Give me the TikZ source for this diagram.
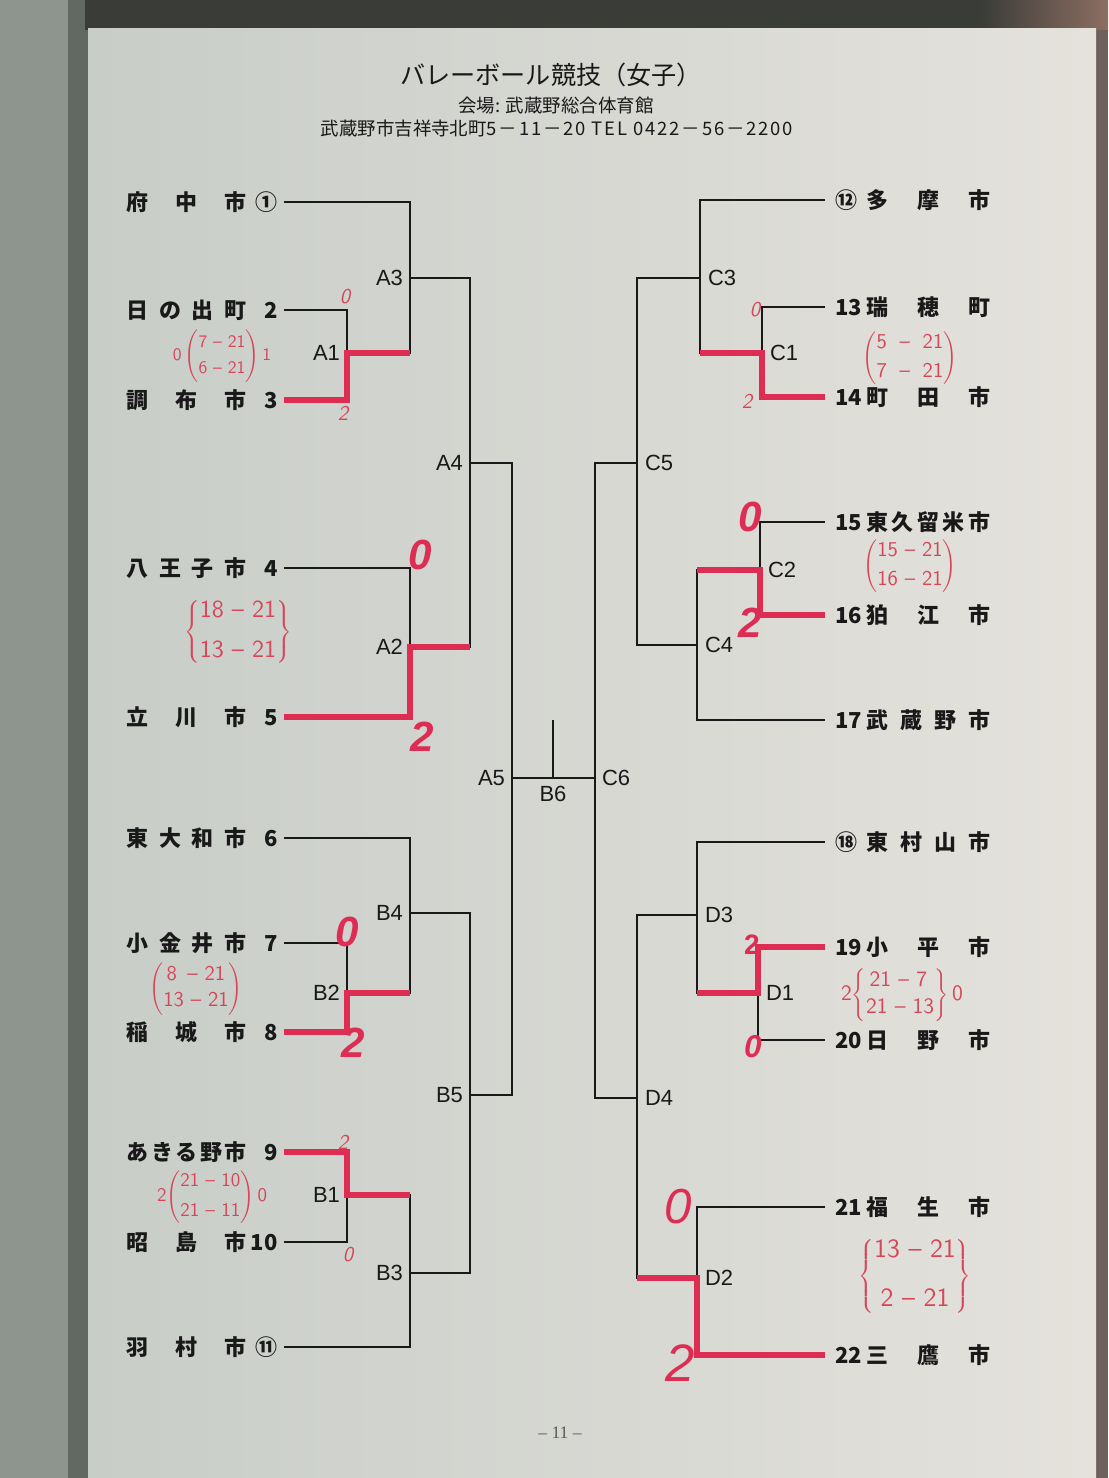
\documentclass[tikz,border=0pt]{standalone}
\usepackage{fontspec}
\usetikzlibrary{positioning}
\setmainfont{Liberation Sans}
\newfontfamily\jp{Noto Sans CJK JP}
\newfontfamily\jpwide[LetterSpace=10]{Noto Sans CJK JP}
\newfontfamily\pgfont{Liberation Serif}
\definecolor{ink}{RGB}{25,25,25}
\definecolor{marker}{RGB}{222,45,82}
\definecolor{pen}{RGB}{214,70,88}
\definecolor{wall}{RGB}{142,148,142}
\definecolor{frame}{RGB}{98,104,98}
\definecolor{band}{RGB}{58,60,56}
\definecolor{warm}{RGB}{140,110,98}
\definecolor{edge}{RGB}{110,96,90}
\definecolor{paperL}{RGB}{200,205,200}
\definecolor{paperM}{RGB}{220,221,216}
\definecolor{paperR}{RGB}{229,226,220}
\newcommand\lteam[4]{\node[team,inner xsep=1.2mm,anchor=east] (#1) at (284,#2) {\makebox[24mm]{#3}\makebox[6.2mm][r]{#4}};}
\newcommand\rteam[4]{\node[team,inner xsep=2mm,anchor=west] (#1) at (825,#2) {\makebox[6.2mm][l]{#3}\makebox[24.8mm]{#4}};}
\newcommand\twoline[3]{\begin{tabular}{@{}c@{}}#1\\[#3]#2\end{tabular}}
\begin{document}
\begin{tikzpicture}[x=0.2mm,y=-0.2mm,
  br/.style={line width=0.5mm,draw=ink},
  win/.style={line width=1.3mm,draw=marker},
  team/.style={font=\jp\bfseries\fontsize{12.5}{14}\selectfont,text=ink,inner ysep=0pt},
  lbl/.style={font=\fontsize{12.5}{14}\selectfont,text=ink,inner sep=1pt},
  head/.style={font=\jp,text=ink,inner sep=0pt},
  pen/.style={text=pen,font=\sffamily,inner sep=0pt},
  tick/.style={text=pen,font=\sffamily\itshape\fontsize{12}{12}\selectfont,inner sep=0pt},
  big/.style={text=marker,font=\bfseries\itshape\fontsize{24}{24}\selectfont,inner sep=0pt}]
\useasboundingbox (0,0) rectangle (1108,1478);
% photo background
\fill[wall] (0,0) rectangle (1108,1478);
\fill[frame] (68,0) rectangle (88,1478);
\fill[band] (85,0) rectangle (1108,30);
\shade[left color=band,right color=warm] (980,0) rectangle (1108,30);
\fill[white!92!gray] (649,30) arc (180:0:18 and 12) -- cycle;
\fill[edge] (1095,30) rectangle (1108,1478);
\shade[left color=paperL,middle color=paperM,right color=paperR] (88,28) rectangle (1096,1478);

% heading
\node[head,font=\jp\fontsize{14.3}{16}\selectfont] (title) at (551,75) {バレーボール競技（女子）};
\node[head,font=\jp\fontsize{10.5}{12}\selectfont] (venue) at (556,106) {会場: 武蔵野総合体育館};
\node[head,font=\jp\fontsize{10.5}{12}\selectfont] (addr) at (557,129) {武蔵野市吉祥寺北町{\jpwide 5－11－20 TEL 0422－56－2200}};

% teams
\lteam{t1}{202}{府\hfill 中\hfill 市}{①}
\lteam{t2}{310}{日\hfill の\hfill 出\hfill 町}{2}
\lteam{t3}{400}{調\hfill 布\hfill 市}{3}
\lteam{t4}{568}{八\hfill 王\hfill 子\hfill 市}{4}
\lteam{t5}{717}{立\hfill 川\hfill 市}{5}
\lteam{t6}{838}{東\hfill 大\hfill 和\hfill 市}{6}
\lteam{t7}{943}{小\hfill 金\hfill 井\hfill 市}{7}
\lteam{t8}{1032}{稲\hfill 城\hfill 市}{8}
\lteam{t9}{1152}{あ\hfill き\hfill る\hfill 野\hfill 市}{9}
\lteam{t10}{1242}{昭\hfill 島\hfill 市}{10}
\lteam{t11}{1347}{羽\hfill 村\hfill 市}{⑪}
\rteam{t12}{200}{⑫}{多\hfill 摩\hfill 市}
\rteam{t13}{307}{13}{瑞\hfill 穂\hfill 町}
\rteam{t14}{397}{14}{町\hfill 田\hfill 市}
\rteam{t15}{522}{15}{東\hfill 久\hfill 留\hfill 米\hfill 市}
\rteam{t16}{615}{16}{狛\hfill 江\hfill 市}
\rteam{t17}{720}{17}{武\hfill 蔵\hfill 野\hfill 市}
\rteam{t18}{842}{⑱}{東\hfill 村\hfill 山\hfill 市}
\rteam{t19}{947}{19}{小\hfill 平\hfill 市}
\rteam{t20}{1040}{20}{日\hfill 野\hfill 市}
\rteam{t21}{1207}{21}{福\hfill 生\hfill 市}
\rteam{t22}{1355}{22}{三\hfill 鷹\hfill 市}

% match points
\coordinate (mA1) at (347,353);
\coordinate (mA3) at (410,278);
\coordinate (mA2) at (410,647);
\coordinate (mA4) at (470,463);
\coordinate (mA5) at (512,778);
\coordinate (mB2) at (347,993);
\coordinate (mB4) at (410,913);
\coordinate (mB1) at (347,1195);
\coordinate (mB3) at (410,1273);
\coordinate (mB5) at (470,1095);
\coordinate (mB6) at (553,720);
\coordinate (mB6c) at (553,778);
\coordinate (mC6) at (595,778);
\coordinate (mC3) at (700,278);
\coordinate (mC1) at (762,353);
\coordinate (mC5) at (637,463);
\coordinate (mC2) at (760,570);
\coordinate (mC4) at (697,645);
\coordinate (mD3) at (697,915);
\coordinate (mD1) at (758,993);
\coordinate (mD4) at (637,1098);
\coordinate (mD2) at (697,1278);

% bracket
\draw[br] (t1.east) -| (mA3) |- (mA1);
\draw[br] (t2.east) -| (mA1) |- (t3.east);
\draw[br] (mA3) -| (mA4) |- (mA2);
\draw[br] (t4.east) -| (mA2) |- (t5.east);
\draw[br] (mA4) -| (mA5) |- (mB5);
\draw[br] (mA5) -- (mC6);
\draw[br] (mB6) -- (mB6c);
\draw[br] (t6.east) -| (mB4) |- (mB2);
\draw[br] (t7.east) -| (mB2) |- (t8.east);
\draw[br] (mB4) -| (mB5) |- (mB3);
\draw[br] (t9.east) -| (mB1) |- (t10.east);
\draw[br] (mB1) -| (mB3) |- (t11.east);
\draw[br] (t12.west) -| (mC3) |- (mC1);
\draw[br] (t13.west) -| (mC1) |- (t14.west);
\draw[br] (mC3) -| (mC5) |- (mC4);
\draw[br] (t15.west) -| (mC2) |- (t16.west);
\draw[br] (mC2) -| (mC4) |- (t17.west);
\draw[br] (mC5) -| (mC6) |- (mD4);
\draw[br] (t18.west) -| (mD3) |- (mD1);
\draw[br] (t19.west) -| (mD1) |- (t20.west);
\draw[br] (mD3) -| (mD4) |- (mD2);
\draw[br] (t21.west) -| (mD2) |- (t22.west);

% winners in marker
\draw[win] (t3.east) -| (mA1) -- (mA3 |- mA1);
\draw[win] (t5.east) -| (mA2) -- (mA4 |- mA2);
\draw[win] (t8.east) -| (mB2) -- (mB4 |- mB2);
\draw[win] (t9.east) -| (mB1) -- (mB3 |- mB1);
\draw[win] (t14.west) -| (mC1) -- (mC3 |- mC1);
\draw[win] (t16.west) -| (mC2) -- (mC4 |- mC2);
\draw[win] (t19.west) -| (mD1) -- (mD3 |- mD1);
\draw[win] (t22.west) -| (mD2) -- (mD4 |- mD2);

% match labels
\node[lbl,left=1mm of mA1] (lA1) {A1};
\node[lbl,left=1mm of mA3] (lA3) {A3};
\node[lbl,left=1mm of mA2] (lA2) {A2};
\node[lbl,left=1mm of mA4] (lA4) {A4};
\node[lbl,left=1mm of mA5] (lA5) {A5};
\node[lbl,left=1mm of mB2] (lB2) {B2};
\node[lbl,left=1mm of mB4] (lB4) {B4};
\node[lbl,left=1mm of mB1] (lB1) {B1};
\node[lbl,left=1mm of mB3] (lB3) {B3};
\node[lbl,left=1mm of mB5] (lB5) {B5};
\node[lbl,below=1.2mm of mB6c] (lB6) {B6};
\node[lbl,right=1mm of mC6] (lC6) {C6};
\node[lbl,right=1.2mm of mC3] (lC3) {C3};
\node[lbl,right=1.2mm of mC1] (lC1) {C1};
\node[lbl,right=1.2mm of mC5] (lC5) {C5};
\node[lbl,right=1.2mm of mC2] (lC2) {C2};
\node[lbl,right=1.2mm of mC4] (lC4) {C4};
\node[lbl,right=1.2mm of mD3] (lD3) {D3};
\node[lbl,right=1.2mm of mD1] (lD1) {D1};
\node[lbl,right=1.2mm of mD4] (lD4) {D4};
\node[lbl,right=1.2mm of mD2] (lD2) {D2};

% handwritten scores
\node[pen,font=\sffamily\fontsize{10}{12}\selectfont] (sA1) at (222,356) {0\,$\left(\twoline{7 -- 21}{6 -- 21}{1mm}\right)$\,1};
\node[pen,font=\sffamily\fontsize{14}{16}\selectfont] (sA2) at (238,632) {$\left\{\twoline{18 -- 21}{13 -- 21}{2.5mm}\right\}$};
\node[pen,font=\sffamily\fontsize{12}{14}\selectfont] (sB2) at (196,989) {$\left(\twoline{8 \,-- 21}{13 -- 21}{0.3mm}\right)$};
\node[pen,font=\sffamily\fontsize{11}{13}\selectfont] (sB1) at (212,1197) {2$\left(\twoline{21 -- 10}{21 -- 11}{1.5mm}\right)$\,0};
\node[pen,font=\sffamily\fontsize{12}{14}\selectfont] (sC1) at (910,358) {$\left(\twoline{5 \;--\; 21}{7 \;--\; 21}{1mm}\right)$};
\node[pen,font=\sffamily\fontsize{12}{14}\selectfont] (sC2) at (910,566) {$\left(\twoline{15 -- 21}{16 -- 21}{1mm}\right)$};
\node[pen,font=\sffamily\fontsize{12.5}{14}\selectfont] (sD1) at (902,995) {2$\left\{\twoline{21 -- 7\,}{21 -- 13}{0.4mm}\right\}$\,0};
\node[pen,font=\sffamily\fontsize{15}{17}\selectfont] (sD2) at (915,1276) {$\left\{\twoline{13 -- 21}{2 -- 21}{4mm}\right\}$};

% set counts
\node[tick] (nA1w) at (345,297) {0};
\node[tick] (nA1l) at (343,413) {2};
\node[tick] (nB1w) at (343,1142) {2};
\node[tick] (nB1l) at (348,1255) {0};
\node[tick] (nC1w) at (755,310) {0};
\node[tick] (nC1l) at (747,401) {2};
\node[big] (nA2w) at (420,555) {0};
\node[big] (nA2l) at (422,737) {2};
\node[big] (nB2w) at (347,932) {0};
\node[big] (nB2l) at (353,1043) {2};
\node[big] (nC2w) at (750,517) {0};
\node[big] (nC2l) at (750,623) {2};
\node[big,font=\bfseries\fontsize{16}{16}\selectfont] (nD1w) at (752,945) {2};
\node[big,font=\bfseries\itshape\fontsize{18}{18}\selectfont] (nD1l) at (753,1047) {0};
\node[big,font=\itshape\fontsize{28}{28}\selectfont] (nD2w) at (678,1207) {0};
\node[big,font=\itshape\fontsize{30}{30}\selectfont] (nD2l) at (680,1363) {2};

\node[font=\pgfont\fontsize{10}{12}\selectfont,text=black!65] (page) at (560,1433) {– 11 –};
\end{tikzpicture}
\end{document}
